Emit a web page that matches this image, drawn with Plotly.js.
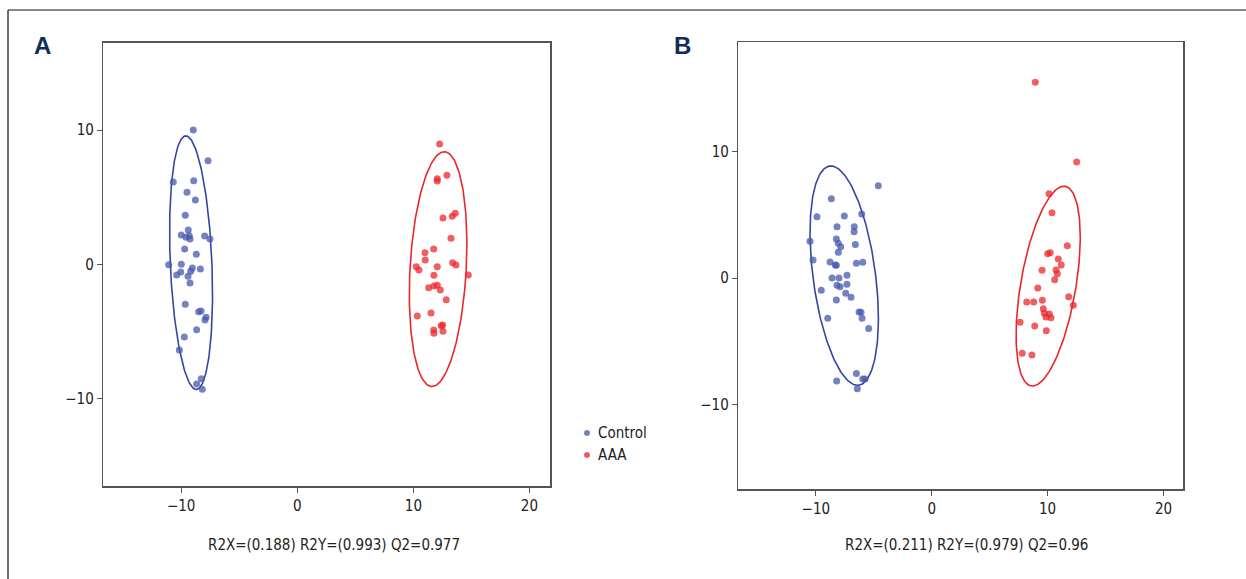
<!DOCTYPE html>
<html>
<head>
<meta charset="utf-8">
<script src="https://cdn.plot.ly/plotly-3.0.1.min.js"></script>
<style>html,body{margin:0;padding:0;background:#fff;}#chart{width:1246px;height:579px;}</style>
</head>
<body>
<div id="chart"></div>
<script>
// ---- Panel A data ----
const aControlX = [-8.96,-7.69,-10.68,-8.92,-9.50,-8.78,-9.65,-9.39,-9.99,-9.30,-9.59,-9.24,-7.98,-7.52,-9.70,-8.70,-11.08,-9.99,-9.04,-8.35,-10.04,-10.39,-9.18,-9.41,-9.24,-9.65,-8.49,-8.29,-7.86,-7.95,-8.67,-9.73,-10.16,-8.27,-8.67,-8.18];
const aControlY = [10.0,7.72,6.13,6.23,5.36,4.79,3.65,2.56,2.18,2.13,2.01,1.88,2.11,1.88,1.14,0.74,-0.03,0.0,-0.28,-0.35,-0.57,-0.80,-0.52,-0.90,-1.39,-2.98,-3.53,-3.48,-3.95,-4.15,-4.87,-5.42,-6.39,-8.52,-8.92,-9.32];
const aAAAX = [12.26,12.06,12.06,12.89,12.55,13.35,13.61,13.24,11.75,11.0,11.02,10.25,10.48,13.38,13.67,12.06,14.73,11.77,11.32,11.77,12.06,12.32,12.83,10.34,11.52,12.40,12.52,12.55,11.75,11.77];
const aAAAY = [8.96,6.38,6.21,6.63,3.45,3.58,3.80,1.94,1.14,0.86,0.32,-0.18,-0.42,0.12,-0.05,-0.18,-0.80,-0.82,-1.74,-1.62,-1.57,-1.92,-2.64,-3.85,-3.63,-4.58,-4.52,-4.99,-4.90,-5.14];
// ---- Panel B data ----
const bControlX = [-4.61,-8.66,-9.90,-7.54,-6.04,-8.17,-6.68,-6.70,-10.50,-8.23,-8.06,-7.85,-6.59,-8.06,-10.24,-8.77,-8.32,-8.23,-6.50,-5.95,-8.60,-8.0,-7.31,-8.17,-7.91,-7.31,-9.53,-7.42,-6.96,-8.23,-6.27,-6.10,-6.01,-8.97,-5.44,-6.50,-5.95,-5.75,-8.20,-6.42];
const bControlY = [7.30,6.27,4.85,4.90,5.06,4.06,4.06,3.66,2.90,3.08,2.74,2.47,2.66,2.03,1.42,1.26,1.03,1.0,1.16,1.24,0.0,0.0,0.21,-0.58,-0.69,-0.50,-0.97,-1.21,-1.53,-1.74,-2.69,-2.71,-3.19,-3.19,-4.0,-7.54,-7.98,-7.98,-8.14,-8.75];
const bAAAX = [8.94,12.51,10.12,10.38,11.70,10.01,10.23,10.92,11.18,10.73,10.84,9.52,10.61,9.15,8.20,8.80,9.55,11.82,12.22,9.63,9.72,10.15,9.86,10.29,7.62,8.89,9.89,7.81,8.65];
const bAAAY = [15.47,9.17,6.67,5.16,2.55,1.92,2.0,1.50,1.03,0.63,0.34,0.61,-0.13,-0.79,-1.90,-1.90,-1.76,-1.48,-2.16,-2.43,-2.79,-2.85,-3.08,-3.14,-3.50,-3.79,-4.16,-5.95,-6.09];
// ---- Confidence ellipses: [centerX, centerY, halfWidthX, halfHeightY, xShiftOfTopPoint] ----
const ellAControl = [-9.15, 0.12, 1.85, 9.45, -0.45];
const ellAAAA = [12.13, -0.36, 2.48, 8.75, 0.53];
const ellBControl = [-7.55, 0.19, 2.95, 8.67, -1.15];
const ellBAAA = [10.05, -0.64, 2.77, 7.9, 1.36];
// ---- Texts ----
const groupNames = ['Control', 'AAA'];
const statsA = 'R2X=(0.188) R2Y=(0.993) Q2=0.977';
const statsB = 'R2X=(0.211) R2Y=(0.979) Q2=0.96';
const tickVals = [-10, 0, 10, 20];
const yTickVals = [-10, 0, 10];

const W = 1246, H = 579;
const FONT = '"Liberation Sans Narrow", "DejaVu Sans Condensed", sans-serif';
const blue = 'rgba(70,88,172,0.75)';
const red = 'rgba(236,40,46,0.75)';
const blueLine = '#3346a3';
const redLine = '#e8262c';

function ellipse(p) {
  const [cx, cy, wx, wy, s] = p;
  const lxx = Math.sqrt(Math.max(wx * wx - s * s, 0));
  const xs = [], ys = [];
  for (let i = 0; i <= 200; i++) {
    const t = 2 * Math.PI * i / 200;
    xs.push(cx + lxx * Math.cos(t) + s * Math.sin(t));
    ys.push(cy + wy * Math.sin(t));
  }
  return {xs, ys};
}

function pts(x, y, color, name, xa, ya) {
  return {x, y, type: 'scatter', mode: 'markers', name, showlegend: false,
    xaxis: xa, yaxis: ya, marker: {color, size: 7, line: {width: 0}}};
}
function ell(p, color, xa, ya) {
  const e = ellipse(p);
  return {x: e.xs, y: e.ys, type: 'scatter', mode: 'lines', showlegend: false, hoverinfo: 'skip',
    xaxis: xa, yaxis: ya, line: {color, width: 1.6}};
}

const data = [
  ell(ellAControl, blueLine, 'x', 'y'),
  ell(ellAAAA, redLine, 'x', 'y'),
  ell(ellBControl, blueLine, 'x2', 'y2'),
  ell(ellBAAA, redLine, 'x2', 'y2'),
  pts(aControlX, aControlY, blue, groupNames[0], 'x', 'y'),
  pts(aAAAX, aAAAY, red, groupNames[1], 'x', 'y'),
  pts(bControlX, bControlY, blue, groupNames[0], 'x2', 'y2'),
  pts(bAAAX, bAAAY, red, groupNames[1], 'x2', 'y2')
];

function axisBase(extra) {
  return Object.assign({
    showgrid: false, zeroline: false, showline: true, mirror: true,
    linecolor: '#555', linewidth: 1.5, ticks: 'outside', ticklen: 5, tickcolor: '#555', tickwidth: 1,
    tickfont: {family: FONT, size: 15, color: '#222'}, fixedrange: true
  }, extra);
}

// manual legend (marker dot + label), placed in paper space
const legendColors = [blue, red];
const legendRows = [433, 455];
const legendShapes = groupNames.map((n, i) => ({
  type: 'circle', xref: 'paper', yref: 'paper',
  x0: (587 - 3) / W, x1: (587 + 3) / W, y0: 1 - (legendRows[i] + 3) / H, y1: 1 - (legendRows[i] - 3) / H,
  fillcolor: legendColors[i], line: {width: 0}
}));
const legendTexts = groupNames.map((n, i) => ({
  text: n, xref: 'paper', yref: 'paper', x: 596 / W, y: 1 - legendRows[i] / H,
  xanchor: 'left', yanchor: 'middle', showarrow: false, font: {family: FONT, size: 15, color: '#222'}
}));

const layout = {
  width: W, height: H,
  margin: {l: 0, r: 0, t: 0, b: 0},
  paper_bgcolor: '#fff', plot_bgcolor: '#fff',
  font: {family: FONT, size: 15, color: '#222'},
  xaxis: axisBase({domain: [103.3 / W, 550 / W], range: [-16.71, 21.77], tickvals: tickVals, anchor: 'y'}),
  yaxis: axisBase({domain: [1 - 486 / H, 1 - 42.7 / H], range: [-16.52, 16.51], tickvals: yTickVals, anchor: 'x'}),
  xaxis2: axisBase({domain: [738.3 / W, 1183.3 / W], range: [-16.69, 21.71], tickvals: tickVals, anchor: 'y2'}),
  yaxis2: axisBase({domain: [1 - 489 / H, 1 - 42 / H], range: [-16.68, 18.66], tickvals: yTickVals, anchor: 'x2'}),
  showlegend: false,
  annotations: [
    {text: '<b>A</b>', xref: 'paper', yref: 'paper', x: 42 / W, y: 1 - 45 / H, xanchor: 'center', yanchor: 'middle',
      showarrow: false, font: {family: '"Liberation Sans", Arial, sans-serif', size: 24, color: '#0d2d5e'}},
    {text: '<b>B</b>', xref: 'paper', yref: 'paper', x: 682 / W, y: 1 - 45 / H, xanchor: 'center', yanchor: 'middle',
      showarrow: false, font: {family: '"Liberation Sans", Arial, sans-serif', size: 24, color: '#0d2d5e'}},
    {text: statsA, xref: 'paper', yref: 'paper', x: 334 / W, y: 1 - 545 / H, xanchor: 'center', yanchor: 'middle',
      showarrow: false, font: {family: FONT, size: 15, color: '#222'}},
    {text: statsB, xref: 'paper', yref: 'paper', x: 967 / W, y: 1 - 545 / H, xanchor: 'center', yanchor: 'middle',
      showarrow: false, font: {family: FONT, size: 15, color: '#222'}}
  ].concat(legendTexts),
  shapes: [
    {type: 'line', xref: 'paper', yref: 'paper', x0: 8 / W, x1: 1, y0: 1 - 10 / H, y1: 1 - 10 / H,
      line: {color: '#111', width: 1.2}},
    {type: 'line', xref: 'paper', yref: 'paper', x0: 8 / W, x1: 8 / W, y0: 0, y1: 1 - 10 / H,
      line: {color: '#111', width: 1.2}}
  ].concat(legendShapes)
};

Plotly.newPlot('chart', data, layout, {displayModeBar: false, staticPlot: true});
</script>
</body>
</html>
